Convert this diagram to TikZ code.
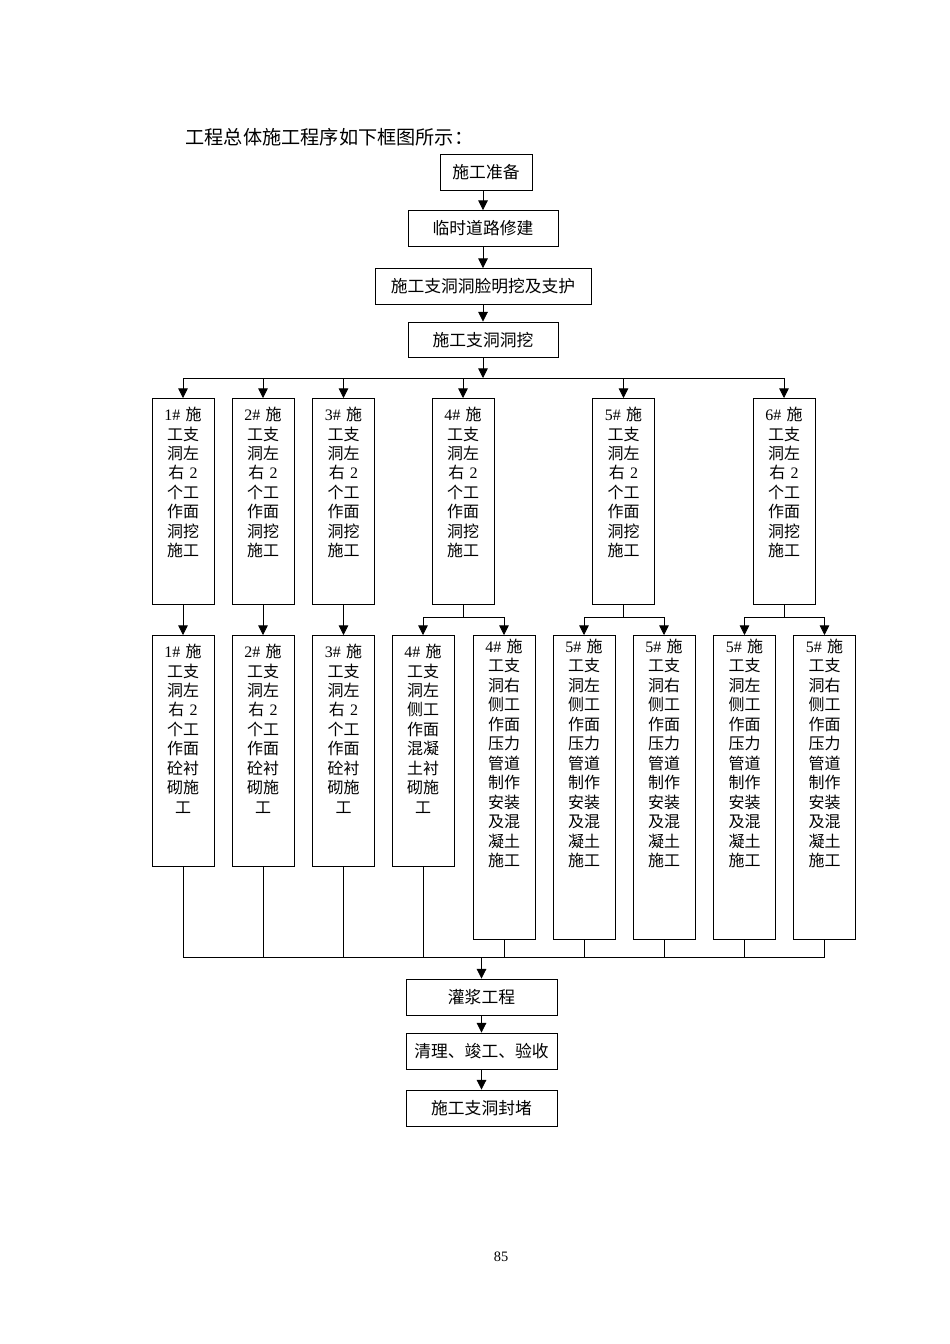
\documentclass[tikz,border=0pt]{standalone}
\usepackage{fontspec}
\setmainfont{Liberation Serif}
\newfontfamily\cjk{Noto Sans CJK SC}
\usetikzlibrary{arrows.meta}
\newcommand{\lat}[1]{{\rmfamily #1}}

\begin{document}
\begin{tikzpicture}[x=0.626pt,y=-0.626pt]
%style for flow box
\tikzstyle{fbox} = [rectangle, draw=black, line width=0.6pt, minimum height=22.5pt, inner sep=0pt, font=\cjk\fontsize{10.5}{12}\selectfont]

%style for column box
\tikzstyle{cbox} = [rectangle, draw=black, line width=0.6pt, anchor=north, inner sep=0pt, text width=38.8pt, align=center, font=\cjk\fontsize{10}{12.2}\selectfont, text height=13.8pt]

%style for arrows
\tikzstyle{flow} = [-{Triangle[length=6pt,width=6pt]}, line width=0.5pt]
\tikzstyle{link} = [line width=0.5pt]

\useasboundingbox (0,0) rectangle (950,1344);

%place nodes
\node[anchor=west, font=\cjk\fontsize{12}{14}\selectfont](title) at (180,137) {工程总体施工程序如下框图所示：};
\node[fbox, minimum width=57.6pt](prep) at (486,172.5) {施工准备};
\node[fbox, minimum width=93.9pt](road) at (483,228.5) {临时道路修建};
\node[fbox, minimum width=135.2pt](portal) at (483,286.5) {施工支洞洞脸明挖及支护};
\node[fbox, minimum width=93.9pt](dig) at (483,340) {施工支洞洞挖};

\node[cbox, text depth=115.2pt](t1) at (183,398) {\lat{1\#} 施\\工支\\洞左\\右 \lat{2}\\个工\\作面\\洞挖\\施工};
\node[cbox, text depth=115.2pt](t2) at (263,398) {\lat{2\#} 施\\工支\\洞左\\右 \lat{2}\\个工\\作面\\洞挖\\施工};
\node[cbox, text depth=115.2pt](t3) at (343.5,398) {\lat{3\#} 施\\工支\\洞左\\右 \lat{2}\\个工\\作面\\洞挖\\施工};
\node[cbox, text depth=115.2pt](t4) at (463,398) {\lat{4\#} 施\\工支\\洞左\\右 \lat{2}\\个工\\作面\\洞挖\\施工};
\node[cbox, text depth=115.2pt](t5) at (623.5,398) {\lat{5\#} 施\\工支\\洞左\\右 \lat{2}\\个工\\作面\\洞挖\\施工};
\node[cbox, text depth=115.2pt](t6) at (784,398) {\lat{6\#} 施\\工支\\洞左\\右 \lat{2}\\个工\\作面\\洞挖\\施工};

\node[cbox, text depth=130.8pt](b1) at (183,635) {\lat{1\#} 施\\工支\\洞左\\右 \lat{2}\\个工\\作面\\砼衬\\砌施\\工};
\node[cbox, text depth=130.8pt](b2) at (263,635) {\lat{2\#} 施\\工支\\洞左\\右 \lat{2}\\个工\\作面\\砼衬\\砌施\\工};
\node[cbox, text depth=130.8pt](b3) at (343.5,635) {\lat{3\#} 施\\工支\\洞左\\右 \lat{2}\\个工\\作面\\砼衬\\砌施\\工};
\node[cbox, text depth=130.8pt](b4L) at (423,635) {\lat{4\#} 施\\工支\\洞左\\侧工\\作面\\混凝\\土衬\\砌施\\工};
\node[cbox, text height=10.6pt, text depth=179.7pt](b4R) at (504,635) {\lat{4\#} 施\\工支\\洞右\\侧工\\作面\\压力\\管道\\制作\\安装\\及混\\凝土\\施工};
\node[cbox, text height=10.6pt, text depth=179.7pt](b5L) at (584,635) {\lat{5\#} 施\\工支\\洞左\\侧工\\作面\\压力\\管道\\制作\\安装\\及混\\凝土\\施工};
\node[cbox, text height=10.6pt, text depth=179.7pt](b5R) at (664,635) {\lat{5\#} 施\\工支\\洞右\\侧工\\作面\\压力\\管道\\制作\\安装\\及混\\凝土\\施工};
\node[cbox, text height=10.6pt, text depth=179.7pt](b6L) at (744.5,635) {\lat{5\#} 施\\工支\\洞左\\侧工\\作面\\压力\\管道\\制作\\安装\\及混\\凝土\\施工};
\node[cbox, text height=10.6pt, text depth=179.7pt](b6R) at (824.5,635) {\lat{5\#} 施\\工支\\洞右\\侧工\\作面\\压力\\管道\\制作\\安装\\及混\\凝土\\施工};

\node[fbox, minimum width=94.5pt](grout) at (481.5,997) {灌浆工程};
\node[fbox, minimum width=94.5pt](clean) at (481.5,1051) {清理、竣工、验收};
\node[fbox, minimum width=94.5pt](seal) at (481.5,1108) {施工支洞封堵};

\node[font=\fontsize{9}{10}\selectfont](pageno) at (501,1257) {85};

%junction points
\coordinate (busT) at (483,378);
\coordinate (busB) at (481.5,957);
\coordinate (br4) at (463,617);
\coordinate (br5) at (623.5,617);
\coordinate (br6) at (784,617);

%connect nodes with lines
\draw[flow] (prep.south -| road.north) -- (road.north);
\draw[flow] (road) -- (portal);
\draw[flow] (portal) -- (dig);
\draw[flow] (dig) -- (busT);
\foreach \t in {t1,t2,t3,t4,t5,t6}
  \draw[flow] (busT) -| (\t.north);

\draw[flow] (t1) -- (b1);
\draw[flow] (t2) -- (b2);
\draw[flow] (t3) -- (b3);
\draw[link] (t4.south) -- (br4);
\draw[flow] (br4) -| (b4L.north);
\draw[flow] (br4) -| (b4R.north);
\draw[link] (t5.south) -- (br5);
\draw[flow] (br5) -| (b5L.north);
\draw[flow] (br5) -| (b5R.north);
\draw[link] (t6.south) -- (br6);
\draw[flow] (br6) -| (b6L.north);
\draw[flow] (br6) -| (b6R.north);

\foreach \b in {b1,b2,b3,b4L,b4R,b5L,b5R,b6L,b6R}
  \draw[link] (\b.south) |- (busB);
\draw[flow] (busB) -- (grout);
\draw[flow] (grout) -- (clean);
\draw[flow] (clean) -- (seal);
\end{tikzpicture}
\end{document}
